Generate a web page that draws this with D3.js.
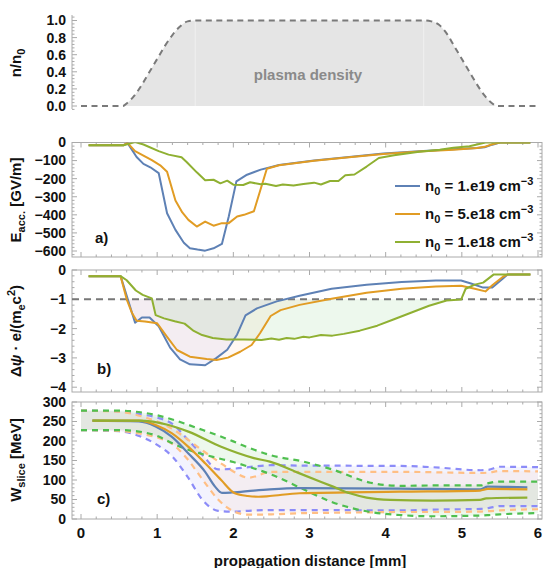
<!DOCTYPE html>
<html>
<head>
<meta charset="utf-8">
<script src="https://cdn.jsdelivr.net/npm/d3@7"></script>
<style>
  body { margin: 0; background: #fff; }
  text { font-family: 'Liberation Sans', Arial, sans-serif; font-weight: bold; }
</style>
</head>
<body>
<svg width="546" height="568"></svg>
<script>
const seriesLabels = ['1.e19', '5.e18', '1.e18']
const lineColors = ['#5e81b5', '#e19c24', '#8fb032']
const bandColors = ['#8c8cf8', '#ffbf85', '#4fbf4f']

// plasma density profile
const densX = [0, 0.55, 0.6, 0.7, 0.8, 0.9, 1.0, 1.1, 1.2, 1.3, 1.4, 1.5, 4.5, 4.6, 4.7, 4.8, 4.9, 5.0, 5.1, 5.2, 5.3, 5.4, 5.45, 6.0]
const dens = [0, 0, 0.03, 0.12, 0.25, 0.4, 0.55, 0.7, 0.83, 0.93, 0.99, 1, 1, 0.99, 0.95, 0.85, 0.7, 0.55, 0.4, 0.25, 0.12, 0.03, 0, 0]

// a) accelerating field [GV/m]
const accBlueX = [0.1, 0.56, 0.61, 0.73, 0.82, 0.91, 1.02, 1.13, 1.24, 1.35, 1.43, 1.53, 1.63, 1.74, 1.85, 1.94, 2.04, 2.18, 2.36, 2.5, 2.6, 3.06, 3.52, 3.97, 4.44, 4.89, 5.2, 5.3, 5.4, 5.5, 5.9]
const accBlue = [-15, -15, -2, -80, -118, -137, -169, -391, -483, -554, -585, -592, -598, -585, -561, -409, -215, -178, -150, -135, -124, -99, -80, -61, -48, -38, -30, -26, -12, 0, 0]
const accOrangeX = [0.1, 0.56, 0.61, 0.71, 0.82, 0.93, 1.04, 1.13, 1.24, 1.33, 1.41, 1.52, 1.63, 1.74, 1.85, 1.94, 2.05, 2.14, 2.27, 2.44, 2.6, 3.06, 3.52, 3.97, 4.44, 4.89, 5.2, 5.3, 5.4, 5.5, 5.9]
const accOrange = [-15, -15, -2, -48, -72, -98, -126, -162, -321, -387, -428, -465, -437, -460, -446, -446, -409, -400, -380, -145, -126, -101, -82, -63, -50, -40, -30, -24, -10, 0, 0]
const accGreenX = [0.1, 0.56, 0.71, 0.82, 1.02, 1.15, 1.32, 1.39, 1.52, 1.63, 1.74, 1.83, 1.92, 2.0, 2.13, 2.22, 2.36, 2.42, 2.56, 2.65, 2.79, 2.92, 3.06, 3.15, 3.27, 3.38, 3.47, 3.59, 3.75, 3.91, 4.11, 4.44, 4.71, 4.89, 5.1, 5.31, 5.9]
const accGreen = [-15, -15, 2, -11, -48, -67, -82, -109, -165, -209, -206, -226, -211, -233, -235, -220, -231, -228, -241, -232, -238, -230, -222, -232, -213, -213, -181, -177, -133, -86, -70, -51, -40, -29, -21, 0, 0]

// b) potential difference
const psiBlueX = [0.1, 0.52, 0.71, 0.8, 0.9, 1.02, 1.17, 1.30, 1.43, 1.63, 1.78, 1.92, 2.05, 2.16, 2.31, 2.57, 2.87, 3.29, 3.75, 4.21, 4.66, 4.99, 5.12, 5.28, 5.40, 5.54, 5.60, 5.9]
const psiBlue = [-0.21, -0.21, -1.8, -1.62, -1.62, -1.92, -2.65, -3.05, -3.22, -3.25, -3.0, -2.72, -2.2, -1.55, -1.31, -1.07, -0.88, -0.64, -0.50, -0.41, -0.36, -0.36, -0.46, -0.60, -0.60, -0.29, -0.15, -0.15]
const psiOrangeX = [0.1, 0.52, 0.6, 0.67, 0.73, 0.84, 1.0, 1.13, 1.26, 1.43, 1.65, 1.78, 1.93, 2.09, 2.24, 2.35, 2.49, 2.62, 2.87, 3.29, 3.75, 4.21, 4.66, 4.99, 5.17, 5.31, 5.40, 5.54, 5.60, 5.9]
const psiOrange = [-0.21, -0.21, -1.0, -1.47, -1.73, -1.76, -1.82, -2.28, -2.73, -2.96, -3.04, -3.07, -2.99, -2.79, -2.56, -2.16, -1.57, -1.37, -1.19, -0.98, -0.78, -0.64, -0.56, -0.54, -0.64, -0.73, -0.52, -0.23, -0.15, -0.15]
const psiGreenX = [0.1, 0.52, 0.6, 0.72, 0.81, 0.93, 0.98, 1.09, 1.23, 1.36, 1.48, 1.59, 1.73, 1.91, 2.14, 2.37, 2.5, 2.6, 2.7, 2.8, 2.92, 3.0, 3.15, 3.3, 3.45, 3.66, 3.89, 4.11, 4.34, 4.57, 4.80, 4.99, 5.05, 5.17, 5.28, 5.42, 5.9]
const psiGreen = [-0.21, -0.21, -0.35, -0.70, -0.85, -0.97, -1.54, -1.65, -1.75, -1.83, -2.08, -2.22, -2.32, -2.37, -2.37, -2.39, -2.34, -2.38, -2.32, -2.35, -2.28, -2.30, -2.22, -2.24, -2.18, -2.07, -1.90, -1.68, -1.45, -1.22, -1.04, -1.01, -0.64, -0.50, -0.43, -0.15, -0.15]
const psiThreshold = -1

// c) slice energy [MeV]
const wBlueX = [0.15, 0.76, 0.98, 1.19, 1.41, 1.63, 1.76, 1.85, 1.98, 2.27, 2.48, 2.87, 4.19, 5.24, 5.34, 5.86]
const wBlue = [252, 250, 237, 211, 168, 121, 83, 67, 68, 73, 76, 79, 78, 76, 83, 81]
const wOrangeX = [0.15, 0.76, 0.98, 1.19, 1.41, 1.63, 1.84, 2.02, 2.19, 2.33, 2.48, 2.87, 4.19, 5.24, 5.34, 5.86]
const wOrange = [252, 252, 241, 220, 185, 143, 100, 66, 59, 57, 59, 66, 70, 73, 77, 76]
const wGreenX = [0.15, 0.76, 1.15, 1.41, 1.84, 2.27, 2.48, 2.87, 3.31, 3.53, 3.75, 4.06, 4.62, 5.24, 5.32, 5.86]
const wGreen = [252, 252, 241, 224, 185, 156, 147, 117, 83, 66, 55, 49, 47, 49, 53, 55]

const bandX = [0, 0.5, 0.8, 1.0, 1.2, 1.4, 1.6, 1.8, 2.0, 2.2, 2.5, 2.9, 3.3, 3.8, 4.2, 4.6, 5.25, 5.35, 5.5, 6.0]
const bandBlueHi = [278, 276, 268, 260, 244, 204, 163, 127, 129, 133, 138, 137, 137, 136, 136, 133, 125, 126, 134, 133]
const bandBlueLo = [228, 225, 210, 190, 160, 108, 48, 21, 19, 21, 23, 23, 23, 22, 22, 24, 26, 28, 33, 33]
const bandOrangeHi = [278, 275, 263, 250, 231, 204, 175, 148, 122, 106, 121, 121, 121, 121, 121, 120, 118, 119, 123, 122]
const bandOrangeLo = [228, 226, 218, 209, 192, 153, 100, 50, 20, 11, 12, 15, 16, 17, 18, 18, 19, 20, 22, 25]
const bandGreenHi = [278, 278, 273, 266, 255, 242, 228, 214, 199, 183, 163, 148, 127, 93, 85, 86, 86, 92, 96, 96]
const bandGreenLo = [228, 228, 223, 213, 194, 178, 166, 156, 146, 134, 114, 78, 43, 18, 10, 7, 9, 10, 12, 15]

const svg = d3.select('svg')
const frameColor = '#aaaaaa'
const left = 72
const right = 542

const x = d3.scaleLinear().domain([0, 6]).range([81, 538])
const yD = d3.scaleLinear().domain([0, 1]).range([106, 20.5])
const yA = d3.scaleLinear().domain([-600, 0]).range([251, 142.5])
const yB = d3.scaleLinear().domain([-4, 0]).range([387.2, 270])
const yC = d3.scaleLinear().domain([0, 300]).range([519, 402])

const fmtSigned = (v) => (v < 0 ? '\u2212' + Math.abs(v) : String(v))

const yTicks = (g, y, step, lo, hi, fmt, both) => {
  const minor = step / 5
  const vals = d3.range(Math.ceil(lo / minor), Math.floor(hi / minor) + 1).map((i) => i * minor)
  vals.forEach((v) => {
    const isMajor = Math.abs(v / step - Math.round(v / step)) < 1e-6
    const len = isMajor ? 5 : 2.5
    g.append('line').attr('x1', left).attr('x2', left + len).attr('y1', y(v)).attr('y2', y(v))
      .attr('stroke', frameColor)
    if (both) {
      g.append('line').attr('x1', right).attr('x2', right - len).attr('y1', y(v)).attr('y2', y(v))
        .attr('stroke', frameColor)
    }
    if (isMajor) {
      g.append('text').attr('x', 66).attr('y', y(v)).attr('dy', '0.35em')
        .attr('text-anchor', 'end').attr('font-size', 14).attr('fill', '#111')
        .text(fmt(Math.round(v / step) * step))
    }
  })
}

const addFrame = (y, top, bottom, step, fmt, xLabels) => {
  const g = svg.append('g')
  g.append('rect').attr('x', left).attr('y', top).attr('width', right - left).attr('height', bottom - top)
    .attr('fill', 'none').attr('stroke', frameColor)
  d3.range(0, 31).forEach((i) => {
    const len = i % 5 === 0 ? 5 : 2.5
    const px = x(i / 5)
    g.append('line').attr('x1', px).attr('x2', px).attr('y1', bottom).attr('y2', bottom - len).attr('stroke', frameColor)
    g.append('line').attr('x1', px).attr('x2', px).attr('y1', top).attr('y2', top + len).attr('stroke', frameColor)
    if (xLabels && i % 5 === 0) {
      g.append('text').attr('x', px).attr('y', bottom + 14).attr('dy', '0.35em')
        .attr('text-anchor', 'middle').attr('font-size', 15).attr('fill', '#111').text(i / 5)
    }
  })
  const [lo, hi] = [y.invert(bottom), y.invert(top)]
  yTicks(g, y, step, lo, hi, fmt, true)
}

const clip = (id, top, bottom) => {
  svg.append('clipPath').attr('id', id).append('rect')
    .attr('x', left).attr('y', top).attr('width', right - left).attr('height', bottom - top)
}

const yTitle = (cy, parts) => {
  const t = svg.append('text').attr('transform', `translate(21,${cy}) rotate(-90)`)
    .attr('text-anchor', 'middle').attr('font-size', 15).attr('fill', '#111')
  let shift = 0
  parts.forEach(([s, kind, style]) => {
    const target = kind === 'sub' ? 4 : kind === 'sup' ? -6 : 0
    const ts = t.append('tspan').attr('dy', target - shift).text(s)
    if (kind) ts.attr('font-size', 11)
    if (style) ts.attr('font-style', style)
    shift = target
  })
}

const panelLabel = (txt, px, py) => {
  svg.append('text').attr('x', px).attr('y', py).attr('dy', '0.35em')
    .attr('font-size', 15).attr('fill', '#111').text(txt)
}

// density panel
const gD = svg.append('g')
const densPts = d3.zip(densX, dens)
gD.append('path').datum(densPts)
  .attr('d', d3.area().x((d) => x(d[0])).y0(yD(0)).y1((d) => yD(d[1])).curve(d3.curveMonotoneX))
  .attr('fill', '#e5e5e5')
;[1.5, 4.5].forEach((v) => {
  gD.append('line').attr('x1', x(v)).attr('x2', x(v)).attr('y1', yD(0)).attr('y2', yD(1))
    .attr('stroke', '#f0f0f0').attr('stroke-width', 1)
})
gD.append('path').datum(densPts)
  .attr('d', d3.line().x((d) => x(d[0])).y((d) => yD(d[1])).curve(d3.curveMonotoneX))
  .attr('fill', 'none').attr('stroke', '#7a7a7a').attr('stroke-width', 2).attr('stroke-dasharray', '6,4.5')
gD.append('line').attr('x1', left).attr('x2', left).attr('y1', 15).attr('y2', 109).attr('stroke', frameColor)
yTicks(gD, yD, 0.2, -0.05, 1.07, d3.format('.1f'), false)
gD.append('text').attr('x', x(2.98)).attr('y', 75).attr('dy', '0.35em').attr('text-anchor', 'middle')
  .attr('font-size', 15).attr('fill', '#8a8a8a').text('plasma density')

// panel a
addFrame(yA, 142.5, 257, 100, fmtSigned, false)
clip('clipA', 142.5, 257)
const gA = svg.append('g').attr('clip-path', 'url(#clipA)')
const lineA = d3.line().x((d) => x(d[0])).y((d) => yA(d[1]))
;[[accBlueX, accBlue], [accOrangeX, accOrange], [accGreenX, accGreen]].forEach(([xs, vs], i) => {
  gA.append('path').datum(d3.zip(xs, vs)).attr('d', lineA)
    .attr('fill', 'none').attr('stroke', lineColors[i]).attr('stroke-width', 2).attr('stroke-linejoin', 'round')
})
panelLabel('a)', 95, 238)
seriesLabels.forEach((lab, i) => {
  const ly = 186 + i * 28
  svg.append('line').attr('x1', 395).attr('x2', 420).attr('y1', ly).attr('y2', ly)
    .attr('stroke', lineColors[i]).attr('stroke-width', 2)
  const t = svg.append('text').attr('x', 425).attr('y', ly).attr('dy', '0.35em')
    .attr('font-size', 15).attr('fill', '#111')
  t.append('tspan').text('n')
  t.append('tspan').attr('dy', 4).attr('font-size', 11).text('0')
  t.append('tspan').attr('dy', -4).text(` = ${lab} cm`)
  t.append('tspan').attr('dy', -6).attr('font-size', 11).text('\u22123')
})

// panel b
addFrame(yB, 270, 392, 1, fmtSigned, false)
clip('clipB', 270, 392)
clip('clipBfill', yB(psiThreshold), 392)
const gB = svg.append('g').attr('clip-path', 'url(#clipB)')
const psiSeries = [[psiBlueX, psiBlue], [psiOrangeX, psiOrange], [psiGreenX, psiGreen]]
const gBf = gB.append('g').attr('clip-path', 'url(#clipBfill)')
psiSeries.forEach(([xs, vs], i) => {
  gBf.append('path').datum(d3.zip(xs, vs))
    .attr('d', d3.area().x((d) => x(d[0])).y0(yB(psiThreshold)).y1((d) => yB(d[1])))
    .attr('fill', bandColors[i]).attr('fill-opacity', 0.1)
})
gB.append('line').attr('x1', left).attr('x2', right).attr('y1', yB(psiThreshold)).attr('y2', yB(psiThreshold))
  .attr('stroke', '#777').attr('stroke-width', 2).attr('stroke-dasharray', '7,5')
const lineB = d3.line().x((d) => x(d[0])).y((d) => yB(d[1]))
psiSeries.forEach(([xs, vs], i) => {
  gB.append('path').datum(d3.zip(xs, vs)).attr('d', lineB)
    .attr('fill', 'none').attr('stroke', lineColors[i]).attr('stroke-width', 2).attr('stroke-linejoin', 'round')
})
panelLabel('b)', 97, 369)

// panel c
addFrame(yC, 402, 519, 50, String, true)
clip('clipC', 402, 519)
const gC = svg.append('g').attr('clip-path', 'url(#clipC)')
const bands = [[bandBlueHi, bandBlueLo], [bandOrangeHi, bandOrangeLo], [bandGreenHi, bandGreenLo]]
bands.forEach(([hi, lo], i) => {
  const pts = d3.zip(bandX, hi, lo)
  gC.append('path').datum(pts)
    .attr('d', d3.area().x((d) => x(d[0])).y0((d) => yC(d[2])).y1((d) => yC(d[1])).curve(d3.curveMonotoneX))
    .attr('fill', bandColors[i]).attr('fill-opacity', 0.1)
})
const lineC = d3.line().x((d) => x(d[0])).y((d) => yC(d[1])).curve(d3.curveMonotoneX)
bands.forEach(([hi, lo], i) => {
  ;[hi, lo].forEach((vs) => {
    gC.append('path').datum(d3.zip(bandX, vs)).attr('d', lineC)
      .attr('fill', 'none').attr('stroke', bandColors[i]).attr('stroke-width', 2.2).attr('stroke-dasharray', '6,5')
  })
})
;[[wBlueX, wBlue], [wOrangeX, wOrange], [wGreenX, wGreen]].forEach(([xs, vs], i) => {
  gC.append('path').datum(d3.zip(xs, vs)).attr('d', lineC)
    .attr('fill', 'none').attr('stroke', lineColors[i]).attr('stroke-width', 2.2)
})
panelLabel('c)', 97, 499)

// axis titles
yTitle(63, [['n/n'], ['0', 'sub']])
yTitle(200, [['E'], ['acc.', 'sub'], [' [GV/m]']])
yTitle(331, [['\u0394'], ['\u03c8', null, 'italic'], [' \u00b7 e/(m'], ['e', 'sub'], ['c'], ['2', 'sup'], [')']])
yTitle(460, [['W'], ['slice', 'sub'], [' [MeV]']])
svg.append('text').attr('x', 310).attr('y', 561).attr('dy', '0.35em').attr('text-anchor', 'middle')
  .attr('font-size', 15).attr('fill', '#111').text('propagation distance [mm]')
</script>
</body>
</html>
